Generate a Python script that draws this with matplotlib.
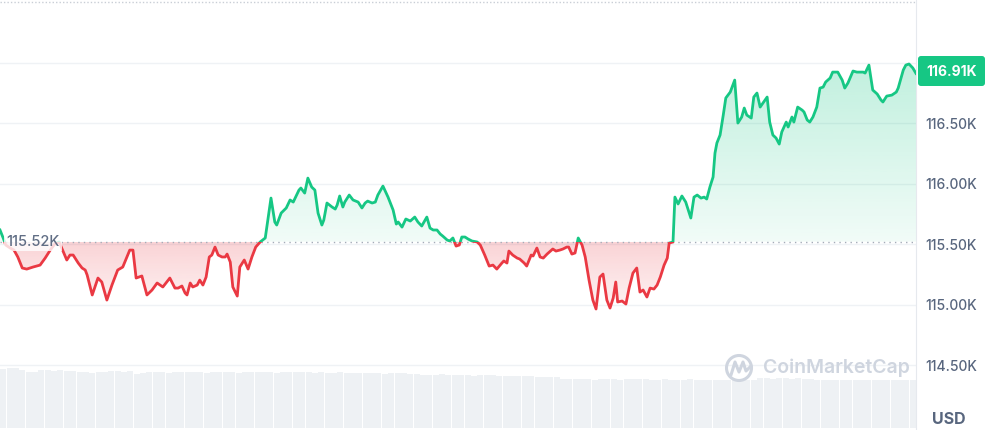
import matplotlib.pyplot as plt
import matplotlib.colors as mcolors
import numpy as np
from matplotlib.patches import Rectangle, Circle, FancyBboxPatch
from matplotlib.path import Path

plt.rcParams['font.family'] = ['Inter', 'DejaVu Sans']

# minutes since start of the 24h window, BTC price in thousands USD
minutes = [0, 5, 9, 16, 22, 28, 35, 42, 52, 63, 71, 79, 86, 93, 97, 105, 110, 115, 123, 129,
           134, 137, 145, 154, 160, 168, 176, 185, 193, 204, 209, 214, 223, 231, 239, 247, 256, 267, 275, 280,
           286, 291, 294, 299, 303, 310, 314, 319, 324, 329, 333, 338, 343, 349, 354, 357, 362, 366, 373, 377,
           384, 390, 396, 402, 409, 417, 426, 432, 435, 442, 450, 456, 461, 470, 473, 479, 484, 490, 495, 500,
           506, 509, 514, 522, 527, 530, 534, 539, 542, 549, 555, 563, 569, 574, 578, 585, 590, 594, 602, 610,
           618, 623, 626, 632, 638, 645, 652, 657, 663, 671, 676, 681, 687, 692, 696, 703, 707, 712, 717, 722,
           726, 731, 736, 742, 750, 755, 762, 769, 775, 781, 789, 792, 797, 800, 806, 813, 817, 824, 828, 835,
           838, 844, 849, 854, 860, 869, 874, 880, 885, 891, 894, 899, 904, 909, 915, 920, 926, 932, 937, 943,
           948, 954, 959, 964, 968, 971, 978, 984, 989, 995, 1001, 1006, 1011, 1017, 1022, 1028, 1033, 1038, 1044, 1049,
           1052, 1058, 1061, 1066, 1072, 1078, 1082, 1086, 1091, 1096, 1102, 1107, 1111, 1116, 1121, 1124, 1127, 1132, 1137, 1141,
           1148, 1152, 1155, 1160, 1166, 1170, 1174, 1181, 1185, 1190, 1195, 1206, 1210, 1215, 1220, 1225, 1229, 1236, 1239, 1245,
           1248, 1254, 1261, 1264, 1269, 1273, 1278, 1284, 1289, 1294, 1298, 1305, 1309, 1317, 1324, 1328, 1333, 1341, 1347, 1357,
           1360, 1366, 1372, 1379, 1385, 1388, 1394, 1402, 1409, 1412, 1420, 1424, 1429, 1435, 1440]
price = [115.616, 115.550, 115.492, 115.467, 115.450, 115.393, 115.302, 115.293, 115.310, 115.326,
         115.384, 115.450, 115.500, 115.517, 115.467, 115.368, 115.409, 115.409, 115.343, 115.302,
         115.285, 115.244, 115.079, 115.219, 115.186, 115.037, 115.161, 115.285, 115.310, 115.450,
         115.450, 115.219, 115.236, 115.079, 115.120, 115.178, 115.145, 115.219, 115.136, 115.136,
         115.153, 115.095, 115.079, 115.178, 115.145, 115.161, 115.202, 115.161, 115.227, 115.393,
         115.409, 115.475, 115.409, 115.393, 115.393, 115.417, 115.351, 115.145, 115.070, 115.310,
         115.368, 115.293, 115.393, 115.475, 115.517, 115.550, 115.880, 115.682, 115.657, 115.756,
         115.798, 115.864, 115.847, 115.946, 115.963, 115.921, 116.045, 115.971, 115.946, 115.756,
         115.657, 115.698, 115.839, 115.806, 115.789, 115.822, 115.897, 115.806, 115.847, 115.905,
         115.864, 115.847, 115.798, 115.839, 115.855, 115.839, 115.847, 115.905, 115.979, 115.888,
         115.781, 115.665, 115.682, 115.640, 115.707, 115.690, 115.723, 115.682, 115.649, 115.723,
         115.632, 115.616, 115.616, 115.583, 115.566, 115.533, 115.525, 115.550, 115.483, 115.492,
         115.558, 115.558, 115.541, 115.525, 115.517, 115.492, 115.409, 115.318, 115.326, 115.293,
         115.343, 115.360, 115.343, 115.442, 115.409, 115.384, 115.376, 115.343, 115.318, 115.409,
         115.401, 115.467, 115.393, 115.384, 115.417, 115.459, 115.442, 115.450, 115.459, 115.475,
         115.475, 115.417, 115.426, 115.550, 115.492, 115.393, 115.202, 115.037, 114.963, 115.227,
         115.252, 115.037, 114.971, 115.054, 115.186, 115.021, 115.029, 115.004, 115.136, 115.260,
         115.302, 115.103, 115.120, 115.062, 115.136, 115.128, 115.161, 115.227, 115.326, 115.384,
         115.508, 115.517, 115.888, 115.831, 115.897, 115.847, 115.781, 115.715, 115.888, 115.905,
         115.880, 115.888, 115.872, 115.971, 116.054, 116.252, 116.335, 116.401, 116.566, 116.707,
         116.756, 116.814, 116.855, 116.500, 116.550, 116.624, 116.566, 116.541, 116.715, 116.748,
         116.632, 116.715, 116.508, 116.401, 116.376, 116.326, 116.426, 116.508, 116.467, 116.550,
         116.508, 116.632, 116.607, 116.591, 116.525, 116.508, 116.550, 116.632, 116.789, 116.797,
         116.839, 116.872, 116.921, 116.921, 116.855, 116.789, 116.831, 116.930, 116.921, 116.921,
         116.913, 116.979, 116.773, 116.740, 116.690, 116.674, 116.723, 116.731, 116.756, 116.789,
         116.938, 116.979, 116.988, 116.955, 116.910]

base_price = 115.52
last_price = 116.91
tick_vals = [114.5, 115.0, 115.5, 116.0, 116.5, 117.0]
# the 117.00K label sits under the last-price tag, so it is left blank
tick_labels = ['114.50K', '115.00K', '115.50K', '116.00K', '116.50K', '']

# 10-minute volume bars (relative units)
volume = [59, 60, 60, 58, 56, 56, 58, 58, 57, 58, 57, 57, 56, 56, 55, 56, 56, 57, 57, 56,
          57, 54, 55, 56, 56, 56, 55, 56, 56, 56, 56, 56, 55, 56, 56, 56, 56, 55, 56, 56,
          56, 56, 56, 55, 56, 56, 56, 56, 56, 55, 56, 55, 55, 56, 55, 55, 55, 55, 55, 55,
          54, 55, 55, 55, 54, 54, 53, 53, 53, 54, 53, 53, 53, 53, 52, 53, 53, 53, 52, 52,
          52, 52, 52, 52, 51, 51, 51, 51, 49, 49, 49, 49, 49, 48, 49, 49, 49, 48, 49, 49,
          49, 49, 48, 48, 49, 48, 48, 48, 49, 48, 48, 48, 48, 48, 48, 49, 48, 48, 48, 50,
          50, 49, 50, 50, 49, 50, 49, 49, 48, 48, 48, 48, 48, 48, 48, 48, 48, 48, 48, 48,
          48, 48, 48, 48]

GREEN = '#16c784'
RED = '#ea3943'
GREY_TXT = '#58667e'
WATER = '#cfd5df'

fig = plt.figure(figsize=(9.89, 4.30), dpi=100)
fig.patch.set_facecolor('white')

# volume strip at the bottom
vax = fig.add_axes([0, 2 / 430, 916 / 989, 62 / 430], zorder=0)
vax.bar(np.arange(len(volume)) * 10 + 5, volume, width=9.4, color='#eef1f4', linewidth=0)
vax.set_xlim(0, 1440)
vax.set_ylim(0, 62)
vax.axis('off')

ax = fig.add_axes([0, 0, 916 / 989, 1], zorder=1)
ax.set_facecolor('none')

t = np.array(minutes, dtype=float)
p = np.array(price)

up = ax.fill_between(t, p, base_price, where=p >= base_price, interpolate=True,
                     facecolor='none', edgecolor='none')
dn = ax.fill_between(t, p, base_price, where=p <= base_price, interpolate=True,
                     facecolor='none', edgecolor='none')


def gradient(coll, color, y0, y1, a_bottom, a_top):
    rgb = mcolors.to_rgb(color)
    img = np.zeros((256, 1, 4))
    img[..., :3] = rgb
    img[:, 0, 3] = np.linspace(a_top, a_bottom, 256)
    im = ax.imshow(img, extent=[0, 1440, y0, y1], aspect='auto', origin='upper', zorder=1)
    im.set_clip_path(Path.make_compound_path(*coll.get_paths()), transform=ax.transData)


gradient(up, GREEN, base_price, 117.0, 0.06, 0.27)
gradient(dn, RED, 114.95, base_price, 0.06, 0.22)

# line, green above the open price and red below
green_clip = Rectangle((0, base_price), 1440, 5, transform=ax.transData)
red_clip = Rectangle((0, base_price - 5), 1440, 5, transform=ax.transData)
lg, = ax.plot(t, p, color=GREEN, lw=2.0, solid_joinstyle='round', zorder=3)
lr, = ax.plot(t, p, color=RED, lw=2.0, solid_joinstyle='round', zorder=3)
lg.set_clip_path(green_clip)
lr.set_clip_path(red_clip)

ax.axhline(base_price, color='#a4abb8', lw=1, ls=(0, (1, 3)), zorder=2)
ax.axhline(117.5, color='#c9ced6', lw=1, ls=(0, (1, 1.5)), zorder=2)

ax.set_xlim(0, 1440)
ax.set_ylim(113.963, 117.517)
ax.set_xticks([])
ax.yaxis.tick_right()
ax.set_yticks(tick_vals)
ax.set_yticklabels(tick_labels)
ax.tick_params(axis='y', length=0, pad=7, labelsize=10, labelcolor=GREY_TXT)
for lab in ax.get_yticklabels():
    lab.set_fontweight('medium')
ax.grid(axis='y', color='#eff2f5', lw=1)
ax.set_axisbelow(True)
for s in ['top', 'left', 'bottom']:
    ax.spines[s].set_visible(False)
ax.spines['right'].set_color('#e6e9ee')
ax.spines['right'].set_linewidth(0.8)

# overlay in pixel coordinates for labels and watermark
oax = fig.add_axes([0, 0, 1, 1], zorder=5)
oax.set_xlim(0, 989)
oax.set_ylim(430, 0)
oax.axis('off')

oax.text(6, 242, '115.52K', ha='left', va='center', fontsize=10.5, color='#616e85',
         fontweight='medium',
         bbox=dict(boxstyle='square,pad=0.15', facecolor='white', edgecolor='none', alpha=0.8))

tag = FancyBboxPatch((918, 56), 67, 30, boxstyle='round,pad=0,rounding_size=3',
                     facecolor=GREEN, edgecolor='none')
oax.add_patch(tag)
oax.text(951.5, 71.5, '116.91K', ha='center', va='center', fontsize=10, color='white',
         fontweight='bold')

oax.text(949, 420, 'USD', ha='center', va='center', fontsize=11.5, color=GREY_TXT,
         fontweight='bold')

oax.add_patch(Circle((739, 368), 12.5, facecolor='none', edgecolor=WATER, lw=2.2))
oax.plot([731, 735, 739, 743, 746, 751], [375, 362, 372, 362, 371, 366],
         color=WATER, lw=2.2, solid_joinstyle='round', solid_capstyle='round')
oax.text(763, 368, 'CoinMarketCap', ha='left', va='center', fontsize=14, color=WATER,
         fontweight='semibold')

fig.savefig('out.png', dpi=100, facecolor='white')
